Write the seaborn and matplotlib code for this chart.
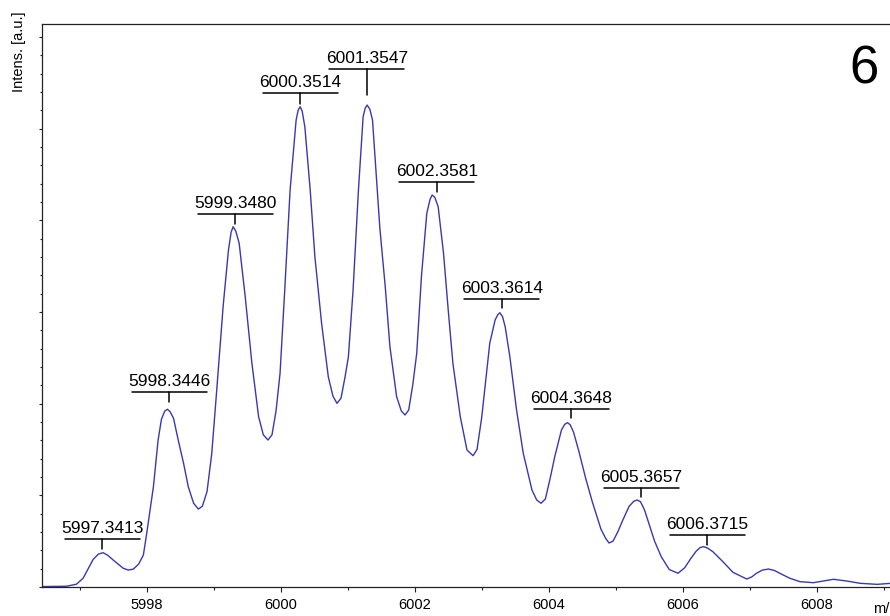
import matplotlib
matplotlib.use("Agg")
import matplotlib.pyplot as plt
from matplotlib.ticker import MultipleLocator
from matplotlib.transforms import ScaledTranslation
import seaborn as sns
import pandas as pd

# ---- data ----
mz = [5996.44, 5996.80, 5996.95, 5997.05, 5997.12, 5997.20, 5997.28, 5997.35, 5997.42,
      5997.50, 5997.65, 5997.725, 5997.80, 5997.88, 5997.95, 5998.00, 5998.10, 5998.17,
      5998.22, 5998.27, 5998.31, 5998.35, 5998.40, 5998.47, 5998.55, 5998.62, 5998.70,
      5998.77, 5998.83, 5998.90, 5998.97, 5999.045, 5999.14, 5999.22, 5999.26, 5999.29,
      5999.33, 5999.38, 5999.47, 5999.57, 5999.67, 5999.74, 5999.81, 5999.87, 5999.93,
      5999.99, 6000.06, 6000.14, 6000.23, 6000.26, 6000.29, 6000.32, 6000.36, 6000.44,
      6000.51, 6000.61, 6000.71, 6000.78, 6000.84, 6000.90, 6000.96, 6001.01, 6001.08,
      6001.16, 6001.23, 6001.26, 6001.29, 6001.33, 6001.37, 6001.48, 6001.56, 6001.63,
      6001.73, 6001.80, 6001.855, 6001.91, 6001.97, 6002.03, 6002.10, 6002.18, 6002.23,
      6002.26, 6002.30, 6002.35, 6002.43, 6002.50, 6002.57, 6002.68, 6002.78, 6002.87,
      6002.93, 6003.00, 6003.05, 6003.12, 6003.20, 6003.24, 6003.27, 6003.31, 6003.35,
      6003.42, 6003.52, 6003.62, 6003.75, 6003.82, 6003.885, 6003.95, 6004.02, 6004.09,
      6004.19, 6004.24, 6004.28, 6004.32, 6004.37, 6004.45, 6004.55, 6004.65, 6004.78,
      6004.85, 6004.90, 6004.96, 6005.03, 6005.10, 6005.20, 6005.27, 6005.32, 6005.37,
      6005.43, 6005.50, 6005.58, 6005.68, 6005.80, 6005.93, 6006.03, 6006.12, 6006.20,
      6006.26, 6006.31, 6006.37, 6006.45, 6006.60, 6006.75, 6006.90, 6006.955, 6007.03,
      6007.10, 6007.19, 6007.28, 6007.37, 6007.45, 6007.60, 6007.75, 6007.95, 6008.10,
      6008.25, 6008.45, 6008.65, 6008.90, 6009.09, 6009.60]
intensity = [5, 8, 30, 95, 190, 300, 360, 374, 345,
             294, 204, 185, 195, 250, 349, 585, 1094, 1603,
             1830, 1920, 1938, 1910, 1840, 1603, 1349, 1094, 913,
             850, 880, 1040, 1450, 2148, 3057, 3675, 3870, 3929,
             3880, 3748, 3166, 2439, 1857, 1660, 1603, 1660, 1920,
             2330, 3239, 4329, 5093, 5200, 5238, 5190, 5020, 4329,
             3602, 2876, 2293, 2080, 2003, 2060, 2290, 2511, 3239,
             4329, 5129, 5220, 5256, 5210, 5093, 3910, 3275, 2620,
             2075, 1920, 1876, 1930, 2200, 2548, 3384, 4075, 4230,
             4275, 4250, 4147, 3639, 3021, 2439, 1857, 1494, 1432,
             1500, 1850, 2184, 2658, 2912, 2970, 2991, 2950, 2839,
             2511, 1930, 1458, 1058, 950, 913, 960, 1180, 1421,
             1712, 1775, 1792, 1770, 1690, 1480, 1190, 930, 630,
             530, 480, 500, 600, 720, 880, 935, 949, 930,
             840, 680, 500, 330, 190, 150, 210, 310, 390,
             430, 440, 425, 385, 276, 160, 106, 87, 110,
             149, 185, 196, 180, 149, 95, 58, 47, 65,
             84, 65, 40, 29, 40, 40]

peak_labels = ["5997.3413", "5998.3446", "5999.3480", "6000.3514", "6001.3547",
               "6002.3581", "6003.3614", "6004.3648", "6005.3657", "6006.3715"]
peak_mz = [5997.337, 5998.333, 5999.318, 6000.289, 6001.284,
           6002.328, 6003.300, 6004.333, 6005.378, 6006.367]
peak_height = [374, 1938, 3929, 5238, 5256, 4275, 2991, 1792, 949, 440]

xticks = [5998, 6000, 6002, 6004, 6006, 6008]

# ---- layout (pixels) for the label brackets ----
bar_raise_px = [14, 17, 12.5, 13.5, 36, 13.5, 13.5, 13.5, 12, 12]
tick_len_px = [10, 10, 10, 10.5, 26, 10, 9, 9, 9, 10]
bar_half_px = 37.5
text_gap_px = 6

sns.set_style("ticks")
plt.rcParams["font.family"] = ["Liberation Sans", "DejaVu Sans"]

DPI = 100
fig = plt.figure(figsize=(8.9, 6.16), dpi=DPI)
ax = fig.add_axes([42 / 890, 29 / 616, 882 / 890, 563 / 616])

df = pd.DataFrame({"mz": mz, "intensity": intensity})
sns.lineplot(data=df, x="mz", y="intensity", ax=ax, color="#3838b2",
             linewidth=1.0, sort=False, estimator=None)

ax.set_xlim(5996.437, 5996.437 + 882 / 67)
ax.set_ylim(0, 6140)
ax.set_xticks(xticks)
ax.set_xticklabels([str(t) for t in xticks])
ax.xaxis.set_minor_locator(MultipleLocator(1))
ax.yaxis.set_major_locator(MultipleLocator(1000))
ax.yaxis.set_minor_locator(MultipleLocator(200))
ax.set_yticklabels([])
ax.set_xlabel("")
ax.set_ylabel("")

for s in ["left", "top", "bottom", "right"]:
    ax.spines[s].set_visible(True)
    ax.spines[s].set_linewidth(0.9)
    ax.spines[s].set_color("#222222")

ax.tick_params(axis="x", which="major", direction="out", length=3.6, width=0.8,
               labelsize=10.5, pad=4.5, colors="#222222", labelcolor="black")
ax.tick_params(axis="x", which="minor", direction="out", length=2.2, width=0.8,
               colors="#222222")
ax.tick_params(axis="y", which="major", direction="out", length=2.4, width=0.8,
               colors="#222222")
ax.tick_params(axis="y", which="minor", direction="out", length=1.6, width=0.8,
               colors="#222222")

for lab, xm, yh, br, tl in zip(peak_labels, peak_mz, peak_height, bar_raise_px, tick_len_px):
    trans = fig.dpi_scale_trans + ScaledTranslation(xm, yh, ax.transData)
    ax.plot([-bar_half_px / DPI, bar_half_px / DPI], [br / DPI, br / DPI],
            transform=trans, color="black", linewidth=1.1, clip_on=False)
    ax.plot([0, 0], [(br - tl) / DPI, br / DPI], transform=trans,
            color="black", linewidth=1.1, clip_on=False)
    ax.text(0, (br + text_gap_px) / DPI, lab, transform=trans, ha="center",
            va="baseline", fontsize=12.5, color="black")

fig.text(19 / 890, 1 - 11.7 / 616, "Intens. [a.u.]", rotation=90, ha="center",
         va="top", fontsize=10.5, color="black")
fig.text(849 / 890, 1 - 83 / 616, "6", ha="left", va="baseline", fontsize=38,
         color="black")
fig.text(873 / 890, 1 - 613 / 616, "m/", ha="left", va="baseline", fontsize=10.5,
         color="black")

fig.savefig("out.png", dpi=DPI)
